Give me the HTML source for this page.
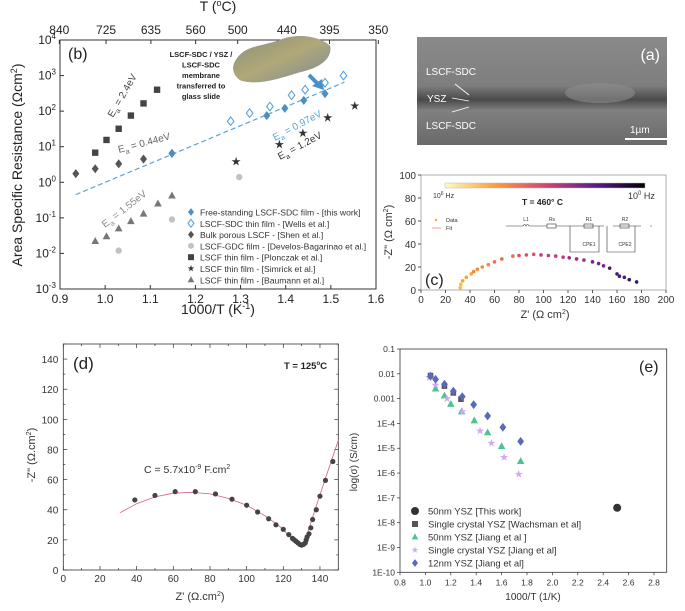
<!DOCTYPE html>
<html><head><meta charset="utf-8"><style>
html,body{margin:0;padding:0;background:#fff}
svg{display:block;font-family:"Liberation Sans",Arial,sans-serif}
</style></head><body>
<svg id="fig" width="685" height="611" viewBox="0 0 685 611" xmlns="http://www.w3.org/2000/svg">
<defs>
<linearGradient id="cb" x1="0" x2="1" y1="0" y2="0">
<stop offset="0" stop-color="#fcfdbf"/><stop offset="0.25" stop-color="#fb9f3a"/><stop offset="0.5" stop-color="#d4466f"/><stop offset="0.75" stop-color="#5c1b8e"/><stop offset="1" stop-color="#000004"/>
</linearGradient>
<linearGradient id="sem" x1="0" x2="0" y1="0" y2="1">
<stop offset="0" stop-color="#8a8a8a"/><stop offset="0.45" stop-color="#7e7e7e"/><stop offset="0.58" stop-color="#4a4a4a"/><stop offset="0.68" stop-color="#808080"/><stop offset="1" stop-color="#6a6a6a"/>
</linearGradient>
<linearGradient id="photo" x1="0" x2="1" y1="0" y2="1">
<stop offset="0" stop-color="#8a8f7a"/><stop offset="0.5" stop-color="#b0a878"/><stop offset="1" stop-color="#7c8a98"/>
</linearGradient>
</defs>

<!-- panel a -->
<g>
<rect x="417" y="37" width="250" height="108" fill="url(#sem)"/>
<ellipse cx="600" cy="93" rx="35" ry="10" fill="#8c8c8c" opacity="0.6"/>
<text x="660" y="60" font-size="16" fill="#fff" text-anchor="end">(a)</text>
<text x="426" y="75" font-size="10" fill="#fff">LSCF-SDC</text>
<text x="427" y="102" font-size="10" fill="#fff">YSZ</text>
<text x="426" y="129" font-size="10" fill="#fff">LSCF-SDC</text>
<line x1="455" y1="84" x2="469" y2="95" stroke="#fff" stroke-width="0.8"/>
<line x1="452" y1="98" x2="469" y2="101" stroke="#fff" stroke-width="0.8"/>
<line x1="452" y1="112" x2="469" y2="107" stroke="#fff" stroke-width="0.8"/>
<line x1="625" y1="139" x2="667" y2="139" stroke="#fff" stroke-width="2"/>
<text x="630" y="133" font-size="10" fill="#fff">1µm</text>
</g>

<g id="pb"></g><g id="pc"></g><g id="pd"></g><g id="pe"></g>
</svg>
<script>
const NS='http://www.w3.org/2000/svg';
function mk(p,tag,at,txt){const e=document.createElementNS(NS,tag);for(const k in at)e.setAttribute(k,at[k]);if(txt!==undefined)e.textContent=txt;p.appendChild(e);return e;}
function marker(g,shape,x,y,s,fill,stroke){
  let e;
  if(shape==='circle'){e=mk(g,'circle',{cx:x,cy:y,r:s,fill:fill,stroke:stroke||'none'});}
  else if(shape==='square'){e=mk(g,'rect',{x:x-s,y:y-s,width:2*s,height:2*s,fill:fill});}
  else if(shape==='diamond'){e=mk(g,'polygon',{points:`${x},${y-s*1.3} ${x+s},${y} ${x},${y+s*1.3} ${x-s},${y}`,fill:fill,stroke:stroke||'none','stroke-width':1.1});}
  else if(shape==='triangle'){e=mk(g,'polygon',{points:`${x},${y-s*1.2} ${x+s*1.1},${y+s*0.8} ${x-s*1.1},${y+s*0.8}`,fill:fill});}
  else {let pts=[];for(let i=0;i<10;i++){const r=i%2?s*0.45:s*1.2;const a=-Math.PI/2+i*Math.PI/5;pts.push((x+r*Math.cos(a)).toFixed(1)+','+(y+r*Math.sin(a)).toFixed(1));}e=mk(g,'polygon',{points:pts.join(' '),fill:fill});}
  return e;
}

/* ---------- Panel b data ---------- */
const bThisX=[1.148,1.358,1.398,1.44,1.487];
const bThisY=[6.5,75,120,200,310];
const bWellsX=[1.278,1.32,1.365,1.413,1.443,1.487,1.528];
const bWellsY=[52,88,135,280,400,630,1000];
const bShenX=[0.935,0.978,1.03,1.085,1.148];
const bShenY=[1.75,2.4,3.3,4.5,6.5];
const bDevX=[1.03,1.148,1.297];
const bDevY=[0.012,0.09,1.4];
const bPlonX=[0.978,1.003,1.03,1.057,1.085,1.115];
const bPlonY=[6.8,15.5,32,75,165,400];
const bSimX=[1.29,1.386,1.438,1.493,1.553];
const bSimY=[3.8,11.5,24,65,140];
const bBauX=[0.978,1.003,1.03,1.057,1.085,1.117,1.148];
const bBauY=[0.022,0.03,0.05,0.08,0.13,0.25,0.42];
const bFitX=[0.935,1.53];
const bFitY=[0.45,650];
const bXTicks=[0.9,1.0,1.1,1.2,1.3,1.4,1.5,1.6];
const bTopT=[840,725,635,560,500,440,395,350];
const bYExp=[-3,-2,-1,0,1,2,3,4];

/* ---------- Panel c data ---------- */
const cZr=[32,32.5,34,37,41,43,46,50,55,60,66,75,80,86,92,98,104,110,116,121,127,133,140,145,149,154,160,162,166,170,176];
const cZi=[2,5,8,11,14,16,18,20,22,24.5,27,29.5,30,30.5,31,30.5,30,29.5,28.5,28,27,26,24.5,23,21,19,14,12,11,9,7];
const cXTicks=[0,20,40,60,80,100,120,140,160,180,200];
const cYTicks=[0,20,40,60,80,100];

/* ---------- Panel d data ---------- */
const dZr=[39,50,61,72,83,92,100,106,112,116,120,123,125,126,127,128,129,130,131,132,132.5,133,134,135,136,138,140,143,147];
const dZi=[46.5,49.5,52,52,50.5,47,43,38.5,34,30,27,23.5,21,20,19,18,17,16.5,17,18,20,22,24,28,33.5,40,49,59.5,72];
const dFitR=[31,40,50,60,70,80,90,100,110,118,124,128,130,132,136,140,145,150];
const dFitI=[38,44,48.5,51,51.5,50.5,47.5,43,36,29,22,17.5,16.5,20,35,50,68,86];
const dXTicks=[0,20,40,60,80,100,120,140];
const dYTicks=[0,20,40,60,80,100,120,140];

/* ---------- Panel e data ---------- */
const eThisX=[2.51]; const eThisY=[4e-8];
const eWachX=[1.04,1.15,1.22,1.28]; const eWachY=[0.0085,0.0032,0.0017,0.00095];
const eJ50X=[1.08,1.15,1.2,1.285,1.385,1.49,1.6,1.75]; const eJ50Y=[0.0025,0.0013,0.0006,0.0003,0.00013,4.3e-5,1.2e-5,3e-6];
const eJscX=[1.03,1.08,1.17,1.29,1.43,1.52,1.62,1.735]; const eJscY=[0.007,0.0035,0.001,0.0003,5e-5,1.6e-5,4.3e-6,9e-7];
const eJ12X=[1.04,1.08,1.15,1.22,1.29,1.38,1.49,1.61,1.75]; const eJ12Y=[0.008,0.006,0.0038,0.002,0.0012,0.00057,0.0002,7e-5,1.9e-5];
const eXTicks=[0.8,1.0,1.2,1.4,1.6,1.8,2.0,2.2,2.4,2.6,2.8];
const eYLabels=['0.1','0.01','0.001','1E-4','1E-5','1E-6','1E-7','1E-8','1E-9','1E-10'];
const eYExp=[-1,-2,-3,-4,-5,-6,-7,-8,-9,-10];

/* ======== Panel b ======== */
(function(){
const g=document.getElementById('pb');


const X0=60,X1=376,Y0=40,Y1=289;
const bx=v=>X0+(v-0.9)/(0.7)*(X1-X0);
const by=v=>Y1-(Math.log10(v)+3)/7*(Y1-Y0);
const fr=mk(g,'rect',{x:X0,y:Y0,width:X1-X0,height:Y1-Y0,fill:'none',stroke:'#333','stroke-width':1});


bXTicks.forEach(t=>{const x=bx(t);mk(g,'line',{x1:x,y1:Y1,x2:x,y2:Y1-4,stroke:'#333'});
 const l=mk(g,'text',{x:x,y:Y1+14,'font-size':12,'text-anchor':'middle',fill:'#222'},t.toFixed(1));
 
 });
bTopT.forEach(T=>{const x=bx(1000/(T+273));mk(g,'line',{x1:x,y1:Y0,x2:x,y2:Y0+4,stroke:'#333'});
 const l=mk(g,'text',{x:x,y:Y0-6,'font-size':12,'text-anchor':'middle',fill:'#222'},String(T));
 
 });
bYExp.forEach(e=>{const y=by(Math.pow(10,e));mk(g,'line',{x1:X0,y1:y,x2:X0+4,y2:y,stroke:'#333'});
 const t=mk(g,'text',{x:X0-4,y:y+4,'font-size':12,'text-anchor':'end',fill:'#222'});
 
 
 mk(t,'tspan',{},'10');mk(t,'tspan',{dy:-5,'font-size':8},String(e));});
const yl=mk(g,'text',{x:22,y:165,'font-size':14,'text-anchor':'middle',transform:'rotate(-90 22 165)',fill:'#222'});


mk(yl,'tspan',{},'Area Specific Resistance (Ωcm');mk(yl,'tspan',{dy:-5,'font-size':9},'2');mk(yl,'tspan',{dy:5},')');
const xl=mk(g,'text',{x:218,y:314,'font-size':14,'text-anchor':'middle',fill:'#222'});


mk(xl,'tspan',{},'1000/T (K');mk(xl,'tspan',{dy:-5,'font-size':9},'-1');mk(xl,'tspan',{dy:5},')');
const tl=mk(g,'text',{x:218,y:11,'font-size':14,'text-anchor':'middle',fill:'#222'});


mk(tl,'tspan',{},'T (');mk(tl,'tspan',{dy:-5,'font-size':9},'o');mk(tl,'tspan',{dy:5},'C)');
const pl=mk(g,'text',{x:68,y:59,'font-size':16,fill:'#222'},'(b)');


const ph=mk(g,'path',{d:'M236,60 C245,45 262,47 280,40 C300,32 322,38 330,46 C332,60 318,68 300,72 C280,78 258,86 240,80 C232,74 232,66 236,60 Z',fill:'url(#photo)',stroke:'#999','stroke-width':0.5});


mk(g,'line',{x1:309,y1:75,x2:318,y2:84,stroke:'#4a90c8','stroke-width':4});
mk(g,'polygon',{points:'312,86 324,90 322,79',fill:'#4a90c8'});
const lines=['LSCF-SDC / YSZ /','LSCF-SDC','membrane','transferred to','glass slide'];
lines.forEach((s,i)=>{const t=mk(g,'text',{x:201,y:57+i*10.5,'font-size':7.5,'font-weight':'bold','text-anchor':'middle',fill:'#222'},s);
 
 });
const fl=mk(g,'line',{x1:bx(bFitX[0]),y1:by(bFitY[0]),x2:bx(bFitX[1]),y2:by(bFitY[1]),stroke:'#5ba3d9','stroke-width':1.2,'stroke-dasharray':'5,3'});


function series(xs,ys,shape,s,fill,stroke,name){xs.forEach((v,i)=>{const m=marker(g,shape,bx(v),by(ys[i]),s,fill,stroke);
 
 });}
series(bShenX,bShenY,'diamond',3.5,'#555','none','point-shen');
series(bDevX,bDevY,'circle',3.2,'#c2c2c2','none','point-develos');
series(bPlonX,bPlonY,'square',3.2,'#444','none','point-plonczak');
series(bSimX,bSimY,'star',4,'#333','none','point-simrick');
series(bBauX,bBauY,'triangle',3.5,'#777','none','point-baumann');
series(bWellsX,bWellsY,'diamond',3.3,'#fff','#5ba3d9','point-wells');
series(bThisX,bThisY,'diamond',3.5,'#4a90c8','none','point-this-work');
function rot(x,y,a,s,c,size){const t=mk(g,'text',{x:x,y:y,'font-size':size||10,fill:c,transform:`rotate(${a} ${x} ${y})`});
 
 
 mk(t,'tspan',{},'E');mk(t,'tspan',{dy:3,'font-size':7},'a');mk(t,'tspan',{dy:-3},' = '+s);}
rot(113,118,-60,'2.4eV','#444');
rot(119,153,-15,'0.44eV','#666');
rot(275,141,-28,'0.97eV','#5ba3d9');
rot(280,160,-28,'1.2eV','#333');
rot(105,228,-38,'1.55eV','#888');
const leg=[['diamond','#4a90c8','none','Free-standing LSCF-SDC film - [this work]'],['diamond','#fff','#5ba3d9','LSCF-SDC thin film - [Wells et al.]'],['diamond','#555','none','Bulk porous LSCF - [Shen et al.]'],['circle','#c2c2c2','none','LSCF-GDC film - [Develos-Bagarinao et al.]'],['square','#444','none','LSCF thin film - [Plonczak et al.]'],['star','#333','none','LSCF thin film - [Simrick et al.]'],['triangle','#777','none','LSCF thin film - [Baumann et al.]']];
leg.forEach((l,i)=>{const y=215+i*11.3;const m=marker(g,l[0],191,y-3,3,l[1],l[2]);
 
 
 const t=mk(g,'text',{x:200,y:y+0.5,'font-size':8.6,fill:'#333'},l[3]);
 
 });
})();

/* ======== Panel c ======== */
(function(){
const g=document.getElementById('pc');


const X0=421,X1=666,Y0=175,Y1=290;
const cx=v=>X0+v/200*(X1-X0), cy=v=>Y1-v/100*(Y1-Y0);
const fr=mk(g,'rect',{x:X0,y:Y0,width:X1-X0,height:Y1-Y0,fill:'none',stroke:'#999','stroke-width':0.8});


cXTicks.forEach(t=>{const x=cx(t);mk(g,'line',{x1:x,y1:Y1,x2:x,y2:Y1+3,stroke:'#555'});
 const l=mk(g,'text',{x:x,y:Y1+13,'font-size':10,'text-anchor':'middle',fill:'#333'},String(t));
 
 });
cYTicks.forEach(t=>{const y=cy(t);mk(g,'line',{x1:X0-3,y1:y,x2:X0,y2:y,stroke:'#555'});
 const l=mk(g,'text',{x:X0-5,y:y+4,'font-size':10,'text-anchor':'end',fill:'#333'},String(t));
 
 });
const xl=mk(g,'text',{x:545,y:318,'font-size':11,'text-anchor':'middle',fill:'#333'});


mk(xl,'tspan',{},"Z' (Ω cm");mk(xl,'tspan',{dy:-4,'font-size':7},'2');mk(xl,'tspan',{dy:4},')');
const yl=mk(g,'text',{x:392,y:232,'font-size':11,'text-anchor':'middle',fill:'#333',transform:'rotate(-90 392 232)'});


mk(yl,'tspan',{},'-Z" (Ω cm');mk(yl,'tspan',{dy:-4,'font-size':7},'2');mk(yl,'tspan',{dy:4},')');
const cbr=mk(g,'rect',{x:445,y:183,width:200,height:5,fill:'url(#cb)',stroke:'#bbb','stroke-width':0.5});


const a=mk(g,'text',{x:433,y:198,'font-size':7,fill:'#333'});
mk(a,'tspan',{},'10');mk(a,'tspan',{dy:-3,'font-size':5},'6');mk(a,'tspan',{dy:3},' Hz');
const b=mk(g,'text',{x:628,y:199,'font-size':9,fill:'#333'});
mk(b,'tspan',{},'10');mk(b,'tspan',{dy:-4,'font-size':6},'0');mk(b,'tspan',{dy:4},' Hz');
const tt=mk(g,'text',{x:522,y:205,'font-size':8.5,'font-weight':'bold',fill:'#222'},'T = 460° C');


mk(g,'circle',{cx:436,cy:220,r:1.2,fill:'#f5a53a'});
const ld=mk(g,'text',{x:446,y:222,'font-size':5.5,fill:'#333'},'Data');
mk(g,'line',{x1:432,y1:228,x2:441,y2:228,stroke:'#f08080','stroke-width':0.8});
const lf=mk(g,'text',{x:446,y:230,'font-size':5.5,fill:'#333'},'Fit');
const ck=mk(g,'g',{stroke:'#333','stroke-width':0.6,fill:'none'});


mk(ck,'path',{d:'M506,226 H523 M529,226 H547 M556,226 H604 M613,226 H641 M650,226 H652 M570,226 V252 H599 V226 M607,226 V252 H635 V226'});
mk(ck,'path',{d:'M523,226 q1.5,-3 3,0 q1.5,-3 3,0'});
mk(ck,'rect',{x:547,y:224,width:9,height:4});mk(ck,'rect',{x:584,y:224,width:9,height:4});mk(ck,'rect',{x:620,y:224,width:9,height:4});
[['L1',526],['Rs',552],['R1',589],['R2',625]].forEach(p=>{const t=mk(g,'text',{x:p[1],y:221,'font-size':5,'text-anchor':'middle',fill:'#333'},p[0]);});
[['CPE1',589],['CPE2',625]].forEach(p=>{const t=mk(g,'text',{x:p[1],y:246,'font-size':5,'text-anchor':'middle',fill:'#333'},p[0]);});
const pl=mk(g,'text',{x:425,y:285,'font-size':16,fill:'#222'},'(c)');


const cols=['#f5c040','#f5a53a','#f08a3a','#e8704a','#d8506a','#c03c80','#a02c90','#7a2090','#4a1a80','#2a1a6a'];
const n=cZr.length;
cZr.forEach((v,i)=>{const f=i/(n-1)*(cols.length-1);const m=mk(g,'circle',{cx:cx(v),cy:cy(cZi[i]),r:1.8,fill:cols[Math.round(f)]});
 
 });
})();

/* ======== Panel d ======== */
(function(){
const g=document.getElementById('pd');


const X0=63.3,X1=338.3,Y0=344,Y1=570;
const dx=v=>X0+v/150*(X1-X0), dy=v=>Y1-v/150*(Y1-Y0);
const fr=mk(g,'rect',{x:X0,y:Y0,width:X1-X0,height:Y1-Y0,fill:'none',stroke:'#333','stroke-width':0.8});


for(let t=0;t<=150;t+=10){const x=dx(t),y=dy(t),L=t%20?2:4;
 mk(g,'line',{x1:x,y1:Y1,x2:x,y2:Y1-L,stroke:'#333','stroke-width':0.7});mk(g,'line',{x1:x,y1:Y0,x2:x,y2:Y0+L,stroke:'#333','stroke-width':0.7});
 mk(g,'line',{x1:X0,y1:y,x2:X0+L,y2:y,stroke:'#333','stroke-width':0.7});mk(g,'line',{x1:X1,y1:y,x2:X1-L,y2:y,stroke:'#333','stroke-width':0.7});}
dXTicks.forEach(t=>{const l=mk(g,'text',{x:dx(t),y:Y1+12,'font-size':10,'text-anchor':'middle',fill:'#333'},String(t));
 
 });
dYTicks.forEach(t=>{const l=mk(g,'text',{x:X0-5,y:dy(t)+4,'font-size':10,'text-anchor':'end',fill:'#333'},String(t));
 
 });
const xl=mk(g,'text',{x:200,y:600,'font-size':11,'text-anchor':'middle',fill:'#333'});


mk(xl,'tspan',{},"Z' (Ω.cm");mk(xl,'tspan',{dy:-4,'font-size':7},'2');mk(xl,'tspan',{dy:4},')');
const yl=mk(g,'text',{x:35,y:455,'font-size':11,'text-anchor':'middle',fill:'#333',transform:'rotate(-90 35 455)'});


mk(yl,'tspan',{},'-Z" (Ω.cm');mk(yl,'tspan',{dy:-4,'font-size':7},'2');mk(yl,'tspan',{dy:4},')');
const pl=mk(g,'text',{x:73,y:369,'font-size':17,fill:'#222'},'(d)');


const tt=mk(g,'text',{x:327,y:369,'font-size':9.5,'font-weight':'bold','text-anchor':'end',fill:'#222'});


mk(tt,'tspan',{},'T = 125');mk(tt,'tspan',{dy:-4,'font-size':6},'o');mk(tt,'tspan',{dy:4},'C');
const ct=mk(g,'text',{x:144,y:473,'font-size':10.5,fill:'#333'});


mk(ct,'tspan',{},'C = 5.7x10');mk(ct,'tspan',{dy:-4,'font-size':7},'-9');mk(ct,'tspan',{dy:4},' F.cm');mk(ct,'tspan',{dy:-4,'font-size':7},'2');
const fit=mk(g,'polyline',{points:dFitR.map((v,i)=>dx(v).toFixed(1)+','+dy(dFitI[i]).toFixed(1)).join(' '),fill:'none',stroke:'#d06080','stroke-width':0.8});


dZr.forEach((v,i)=>{const m=mk(g,'circle',{cx:dx(v),cy:dy(dZi[i]),r:2.6,fill:'#444'});
 
 });
})();

/* ======== Panel e ======== */
(function(){
const g=document.getElementById('pe');


const X0=400,X1=666.7,Y0=349,Y1=572.3;
const ex=v=>X0+(v-0.8)/2.1*(X1-X0), ey=v=>Y1-(Math.log10(v)+10)/9*(Y1-Y0);
const fr=mk(g,'rect',{x:X0,y:Y0,width:X1-X0,height:Y1-Y0,fill:'none',stroke:'#333','stroke-width':0.8});


eXTicks.forEach(t=>{const x=ex(t);mk(g,'line',{x1:x,y1:Y1,x2:x,y2:Y1+3,stroke:'#333','stroke-width':0.7});
 const l=mk(g,'text',{x:x,y:Y1+13,'font-size':8.5,'text-anchor':'middle',fill:'#333'},t.toFixed(1));
 
 });
eYExp.forEach((e,i)=>{const y=ey(Math.pow(10,e));mk(g,'line',{x1:X0-3,y1:y,x2:X0,y2:y,stroke:'#333','stroke-width':0.7});
 const l=mk(g,'text',{x:X0-5,y:y+3,'font-size':8.5,'text-anchor':'end',fill:'#333'},eYLabels[i]);
 
 });
const xl=mk(g,'text',{x:533,y:600,'font-size':10,'text-anchor':'middle',fill:'#333'},'1000/T (1/K)');


const yl=mk(g,'text',{x:357,y:462,'font-size':10,'text-anchor':'middle',fill:'#333',transform:'rotate(-90 357 462)'},'log(σ) (S/cm)');


const pl=mk(g,'text',{x:639,y:372,'font-size':16,fill:'#222'},'(e)');


function series(xs,ys,shape,s,fill,name){xs.forEach((v,i)=>{const m=marker(g,shape,ex(v),ey(ys[i]),s,fill);
 
 });}
series(eWachX,eWachY,'square',2.8,'#555','point-wachsman');
series(eJ50X,eJ50Y,'triangle',3.4,'#4cc490','point-jiang-50nm');
series(eJscX,eJscY,'star',3.6,'#cfa8f0','point-jiang-single-crystal');
series(eJ12X,eJ12Y,'diamond',3.4,'#5a6ab8','point-jiang-12nm');
series(eThisX,eThisY,'circle',4,'#333','point-this-work-e');
const leg=[['circle','#333','50nm YSZ [This work]'],['square','#555','Single crystal YSZ [Wachsman et al]'],['triangle','#4cc490','50nm YSZ [Jiang et al ]'],['star','#cfa8f0','Single crystal YSZ [Jiang et al]'],['diamond','#5a6ab8','12nm YSZ [Jiang et al]']];
leg.forEach((l,i)=>{const y=511+i*13;const m=marker(g,l[0],415,y,l[0]==='circle'?4:3,l[1]);
 
 
 const t=mk(g,'text',{x:428,y:y+3.5,'font-size':9.5,fill:'#333'},l[2]);
 
 });
})();
</script>
</body></html>
